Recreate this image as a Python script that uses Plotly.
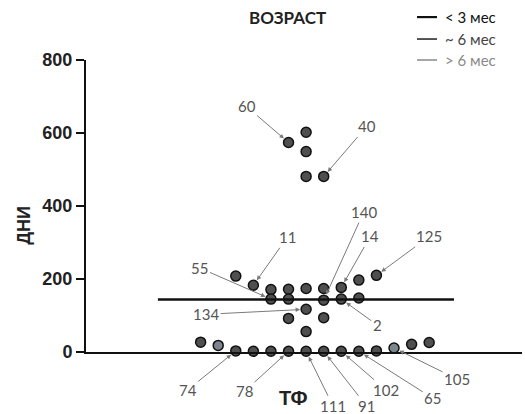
import plotly.graph_objects as go

# ---- data ----
point_cols = [5, 6, 6, 6, 7,
              2, 3, 4, 4, 5, 5, 5, 6, 6, 6, 7, 7, 7, 8, 8, 9, 9, 10,
              0, 1, 2, 3, 4, 5, 6, 7, 8, 9, 10, 11, 12, 13]
point_days = [574, 602, 549, 481, 481,
              208, 183, 171, 145, 172, 145, 92, 174, 117, 56, 174, 142, 94, 177, 145, 197, 148, 210,
              27, 18, 3, 2, 2, 2, 2, 2, 2, 2, 3, 11, 21, 26]
point_group = ["d"] * 24 + ["l"] + ["d"] * 9 + ["l", "d", "d"]

median_days = 144

# label text, index of target point, text offset (px)
label_text = ["60", "40", "140", "14", "125", "11", "55", "134", "2",
              "74", "78", "111", "91", "102", "65", "105"]
label_target = [0, 4, 16, 18, 22, 6, 8, 13, 19, 25, 28, 29, 30, 31, 32, 34]
label_dx = [-42, 43, 40, 29, 53, 34, -71, -100, 36, -48, -44, 27, 43, 45, 74, 63]
label_dy = [-36, -50, -88, -51, -39, -48, -31, 5, 26, 39, 40, 55, 55, 39, 47, 31]

y_ticks = [0, 200, 400, 600, 800]
legend_labels = ["< 3 мес", "~ 6 мес", "> 6 мес"]
legend_colors = ["#111111", "#444444", "#8a8a8a"]
legend_widths = [2.2, 1.8, 1.5]

# ---- layout geometry ----
W, H = 525, 414
ML, MR, MT, MB = 86, 3, 60, 61.5
PW, PH = W - ML - MR, H - MT - MB


def px(xp):
    return (xp - ML) / PW


def py(yp):
    return (H - MB - yp) / PH


colors = {"d": "#4f4f4f", "l": "#7c858e"}

fig = go.Figure()
fig.add_trace(go.Scatter(
    x=point_cols, y=point_days, mode="markers",
    marker=dict(size=10, color=[colors[g] for g in point_group],
                line=dict(color="#111111", width=1.5)),
    cliponaxis=False, showlegend=False, hoverinfo="skip"))

fig.add_shape(type="line", xref="x", yref="y", x0=-2.43, x1=14.41,
              y0=median_days, y1=median_days,
              line=dict(color="#111111", width=2.5))

annotations = []
for t, i, dx, dy in zip(label_text, label_target, label_dx, label_dy):
    annotations.append(dict(
        x=point_cols[i], y=point_days[i], xref="x", yref="y",
        text=t, showarrow=True, ax=dx, ay=dy,
        arrowhead=2, arrowsize=0.9, arrowwidth=1, arrowcolor="#7a7a7a",
        standoff=6, font=dict(family="Lato", size=15, color="#555555")))

# title
annotations.append(dict(x=px(287), y=py(17), xref="paper", yref="paper",
                        xanchor="center", yanchor="middle",
                        text="<b>ВОЗРАСТ</b>", showarrow=False,
                        font=dict(family="Lato", size=17, color="#222222")))
# axis titles
annotations.append(dict(x=px(24), y=py(226), xref="paper", yref="paper",
                        xanchor="center", yanchor="middle",
                        text="<b>ДНИ</b>", showarrow=False, textangle=-90,
                        font=dict(family="Liberation Sans", size=18, color="#222222")))
annotations.append(dict(x=px(293.5), y=py(399), xref="paper", yref="paper",
                        xanchor="center", yanchor="middle",
                        text="<b>ТФ</b>", showarrow=False,
                        font=dict(family="Liberation Sans", size=20, color="#222222")))

# legend (lines + text)
leg_y = [17, 39, 60]
for lab, c, w, yy in zip(legend_labels, legend_colors, legend_widths, leg_y):
    fig.add_shape(type="line", xref="paper", yref="paper",
                  x0=px(417), x1=px(437), y0=py(yy), y1=py(yy),
                  line=dict(color=c, width=w))
    annotations.append(dict(x=px(443), y=py(yy), xref="paper", yref="paper",
                            xanchor="left", yanchor="middle", text=lab, showarrow=False,
                            font=dict(family="Lato", size=15, color=c)))

fig.update_layout(
    width=W, height=H,
    margin=dict(l=ML, r=MR, t=MT, b=MB, pad=0),
    paper_bgcolor="white", plot_bgcolor="white",
    annotations=annotations,
    xaxis=dict(range=[-6.52, 18.28], showgrid=False, zeroline=False,
               showticklabels=False, ticks="", showline=True,
               linecolor="#111111", linewidth=2),
    yaxis=dict(range=[0, 800], tickvals=y_ticks, showgrid=False, zeroline=False,
               ticks="outside", ticklen=8, tickwidth=2, tickcolor="#111111",
               showline=True, linecolor="#111111", linewidth=2,
               tickfont=dict(family="Liberation Sans", size=18, color="#222222",
                             weight="bold")),
)

fig.write_html("out.html")
